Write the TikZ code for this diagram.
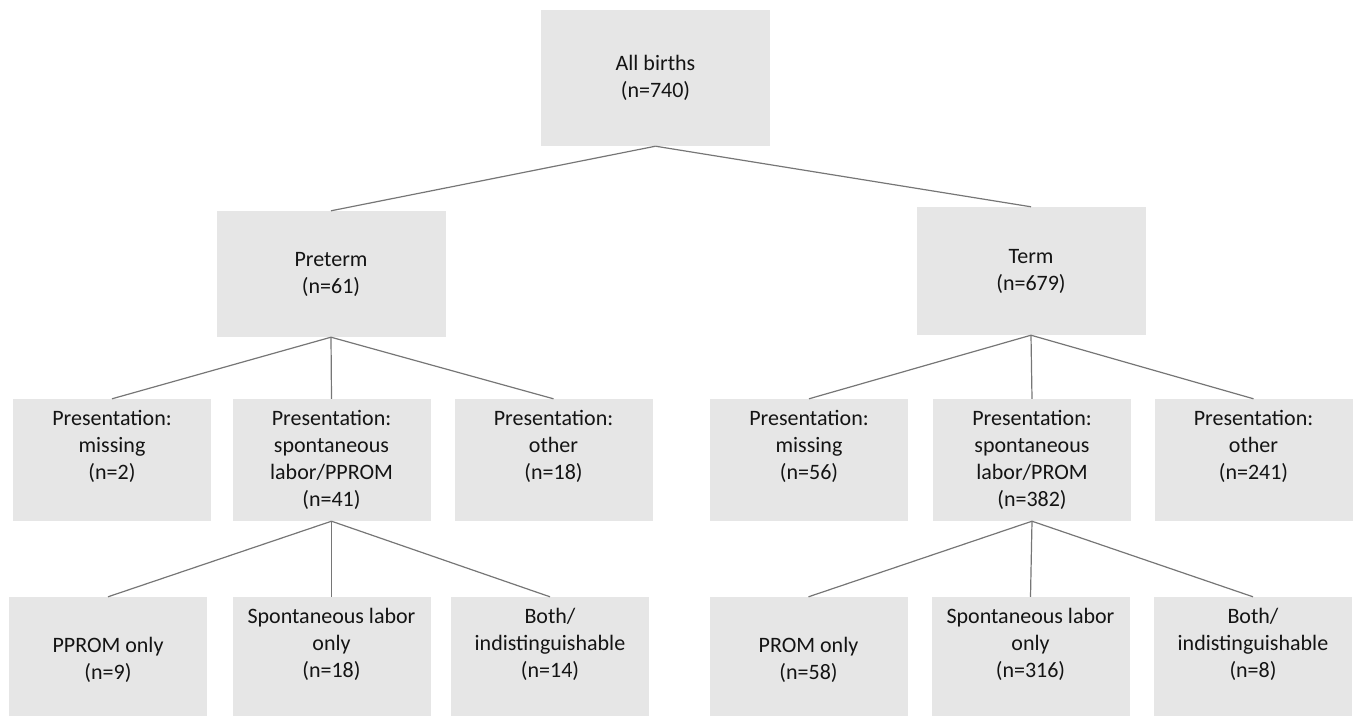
\documentclass[tikz,border=0pt]{standalone}
\usepackage{fontspec}
\setmainfont{Carlito}
\usepackage{xcolor}
\usepackage{tikz}
\usetikzlibrary{calc}

\definecolor{boxgray}{RGB}{230,230,230}
\definecolor{linegray}{RGB}{118,118,118}
\definecolor{textgray}{RGB}{20,20,20}

% text set from the top of a box, first baseline #1 below the top edge
\newcommand{\toplines}[2]{\parbox[c][122pt][t]{198pt}{\centering\rule{0pt}{#1}#2}}

\begin{document}
\begin{tikzpicture}[x=1pt,y=-1pt,
	bigbox/.style={fill=boxgray,inner sep=0pt,minimum width=229pt,align=center,
		text=textgray,font=\fontsize{22}{27}\selectfont},
	smallbox/.style={fill=boxgray,inner sep=0pt,minimum width=198pt,minimum height=122pt,
		text=textgray,font=\fontsize{22}{27}\selectfont},
	link/.style={draw=linegray,line width=1.2pt}]
\useasboundingbox (0,0) rectangle (1355,715);
		% top and second level
		\node[bigbox,minimum height=136pt] (All) at (655.5,78) {All births\\(n=740)};
		\node[bigbox,minimum height=126pt] (Pre) at (331,274) {Preterm\\(n=61)};
		\node[bigbox,minimum height=128pt] (Term) at (1031,271) {Term\\(n=679)};
		% presentation level
		\node[smallbox] (PreMis) at (112,460) {\toplines{26pt}{Presentation:\\missing\\(n=2)}};
		\node[smallbox] (PreSp) at (331.5,460) {\toplines{26pt}{Presentation:\\spontaneous\\labor/PPROM\\(n=41)}};
		\node[smallbox] (PreOth) at (553.5,460) {\toplines{26pt}{Presentation:\\other\\(n=18)}};
		\node[smallbox] (TermMis) at (809,460) {\toplines{26pt}{Presentation:\\missing\\(n=56)}};
		\node[smallbox] (TermSp) at (1032,460) {\toplines{26pt}{Presentation:\\spontaneous\\labor/PROM\\(n=382)}};
		\node[smallbox] (TermOth) at (1253.5,460) {\toplines{26pt}{Presentation:\\other\\(n=241)}};
		% bottom level
		\node[smallbox] (PPROM) at (108,658) {\toplines{55pt}{PPROM only\\(n=9)}};
		\node[smallbox] (PreLab) at (331.5,658) {\toplines{26pt}{Spontaneous labor\\only\\(n=18)}};
		\node[smallbox] (PreBoth) at (550,658) {\toplines{26pt}{Both/\\indistinguishable\\(n=14)}};
		\node[smallbox] (PROM) at (808.5,658) {\toplines{55pt}{PROM only\\(n=58)}};
		\node[smallbox] (TermLab) at (1030.5,658) {\toplines{26pt}{Spontaneous labor\\only\\(n=316)}};
		\node[smallbox] (TermBoth) at (1253,658) {\toplines{26pt}{Both/\\indistinguishable\\(n=8)}};
		% connectors
		\draw[link] (All.south) -- (Pre.north);
		\draw[link] (All.south) -- (Term.north);
		\draw[link] (Pre.south) -- (PreMis.north);
		\draw[link] (Pre.south) -- (PreSp.north);
		\draw[link] (Pre.south) -- (PreOth.north);
		\draw[link] (Term.south) -- (TermMis.north);
		\draw[link] (Term.south) -- (TermSp.north);
		\draw[link] (Term.south) -- (TermOth.north);
		\draw[link] (PreSp.south) -- (PPROM.north);
		\draw[link] (PreSp.south) -- (PreLab.north);
		\draw[link] (PreSp.south) -- (PreBoth.north);
		\draw[link] (TermSp.south) -- (PROM.north);
		\draw[link] (TermSp.south) -- (TermLab.north);
		\draw[link] (TermSp.south) -- (TermBoth.north);
\end{tikzpicture}
\end{document}
